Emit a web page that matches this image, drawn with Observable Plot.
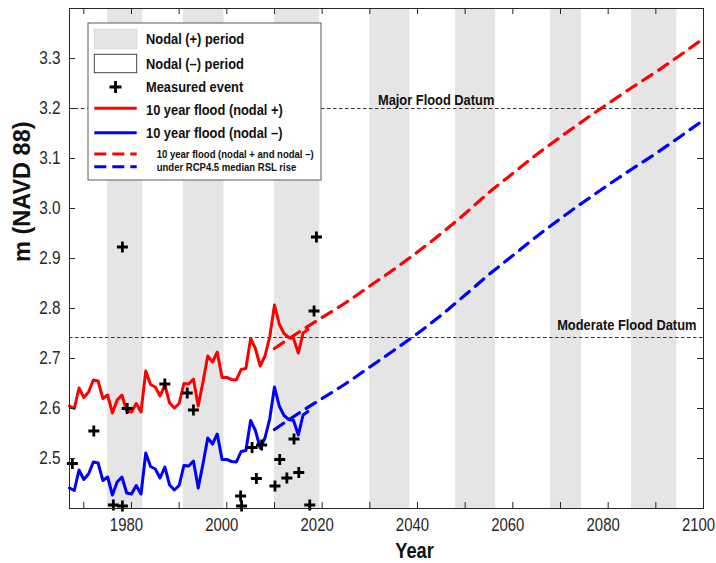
<!DOCTYPE html>
<html>
<head>
<meta charset="utf-8">
<script src="https://cdn.jsdelivr.net/npm/d3@7"></script>
<script src="https://cdn.jsdelivr.net/npm/@observablehq/plot@0.6"></script>
<style>
  body { margin: 0; background: #fff; }
  #chart { width: 716px; height: 563px; }
</style>
</head>
<body>
<div id="chart"></div>
<script>
// Annual 10-year flood level (m NAVD 88), nodal (+) and nodal (–) phases
const floodYears = [1967,1968,1969,1970,1971,1972,1973,1974,1975,1976,1977,1978,1979,1980,1981,1982,1983,1984,1985,1986,1987,1988,1989,1990,1991,1992,1993,1994,1995,1996,1997,1998,1999,2000,2001,2002,2003,2004,2005,2006,2007,2008,2009,2010,2011,2012,2013,2014,2015,2016,2017];
const floodNodalPlus = [2.605,2.600,2.641,2.622,2.633,2.657,2.655,2.620,2.627,2.591,2.617,2.627,2.595,2.593,2.610,2.593,2.675,2.648,2.643,2.625,2.647,2.611,2.601,2.610,2.650,2.649,2.659,2.605,2.653,2.705,2.693,2.713,2.662,2.662,2.658,2.657,2.678,2.680,2.740,2.720,2.685,2.705,2.743,2.807,2.769,2.750,2.742,2.740,2.711,2.751,2.758];
const floodNodalMinus = [2.441,2.436,2.477,2.458,2.469,2.493,2.491,2.456,2.463,2.427,2.453,2.463,2.431,2.429,2.446,2.429,2.511,2.484,2.479,2.461,2.483,2.447,2.437,2.446,2.486,2.485,2.495,2.441,2.489,2.541,2.529,2.549,2.498,2.498,2.494,2.493,2.514,2.516,2.576,2.556,2.521,2.541,2.579,2.643,2.605,2.586,2.578,2.576,2.547,2.587,2.594];

// Projected 10-year flood under RCP4.5 median relative sea-level rise
const projYears = [2010,2015,2020,2025,2030,2035,2040,2045,2050,2055,2060,2065,2070,2075,2080,2085,2090,2095,2100];
const projNodalPlus = [2.720,2.752,2.782,2.812,2.845,2.878,2.913,2.950,2.990,3.032,3.070,3.108,3.143,3.177,3.210,3.242,3.273,3.306,3.340];
const projNodalMinus = [2.558,2.590,2.620,2.650,2.683,2.716,2.750,2.787,2.827,2.868,2.906,2.944,2.980,3.014,3.047,3.079,3.110,3.143,3.177];

// Measured flood events
const eventYears = [1967.6,1972.1,1976.2,1978.1,1978.1,1979.1,1987.0,1991.7,1993.0,2002.9,2003.1,2005.3,2006.2,2007.3,2010.1,2011.1,2012.6,2014.1,2015.1,2017.4,2018.3,2018.8];
const eventLevels = [2.490,2.555,2.407,2.405,2.923,2.600,2.649,2.631,2.597,2.425,2.405,2.522,2.460,2.527,2.445,2.498,2.461,2.539,2.472,2.407,2.795,2.943];

// Nodal (+) periods
const nodalPlusStart = [1975.0,1990.9,2010.0,2030.0,2048.0,2067.9,2084.9];
const nodalPlusEnd   = [1982.4,1999.4,2019.5,2038.4,2056.4,2074.4,2094.4];

// Flood datums
const majorFloodDatum = 3.2;
const moderateFloodDatum = 2.742;

// Axis ticks
const xTicks = [1970,1980,1990,2000,2010,2020,2030,2040,2050,2060,2070,2080,2090,2100];
const xTickLabels = [1980,2000,2020,2040,2060,2080,2100];
const yTicks = [2.5,2.6,2.7,2.8,2.9,3.0,3.1,3.2,3.3];

const FONT = "'Liberation Sans',Arial,Helvetica,sans-serif";
const AXIS = "#262626";
const CONDENSE = 0.83; // horizontal text is set condensed

const observed = floodYears.map((year, i) => ({year, plus: floodNodalPlus[i], minus: floodNodalMinus[i]}));
const projected = projYears.map((year, i) => ({year, plus: projNodalPlus[i], minus: projNodalMinus[i]}));
const events = eventYears.map((year, i) => ({year, level: eventLevels[i]}));
const bands = nodalPlusStart.map((start, i) => ({start, end: nodalPlusEnd[i]}));

// "+" marker drawn as two strokes
const plusSymbol = {
  draw(context, size) {
    const r = Math.sqrt(size / Math.PI);
    context.moveTo(-r, 0); context.lineTo(r, 0);
    context.moveTo(0, -r); context.lineTo(0, r);
  }
};

const W = 716, H = 563, mL = 69, mR = 13, mT = 8, mB = 55;
const frameW = W - mL - mR, frameH = H - mT - mB, tick = 6;

const chart = Plot.plot({
  width: W, height: H,
  marginLeft: mL, marginRight: mR, marginTop: mT, marginBottom: mB,
  x: {domain: [1967, 2100]},
  y: {domain: [2.4, 3.4]},
  style: {fontFamily: FONT, background: "#fff", color: AXIS, overflow: "visible"},
  marks: [
    Plot.rect(bands, {x1: "start", x2: "end", fill: "#e5e5e5"}),
    Plot.ruleY([majorFloodDatum, moderateFloodDatum], {y: d => d, stroke: "#333", strokeWidth: 1, strokeDasharray: "3.5,2.5"}),
    Plot.line(observed, {x: "year", y: "plus", stroke: "#ff0000", strokeWidth: 3}),
    Plot.line(observed, {x: "year", y: "minus", stroke: "#0000ff", strokeWidth: 3}),
    Plot.line(projected, {x: "year", y: "plus", stroke: "#ff0000", strokeWidth: 3.2, strokeDasharray: "11,8", curve: "monotone-x"}),
    Plot.line(projected, {x: "year", y: "minus", stroke: "#0000ff", strokeWidth: 3.2, strokeDasharray: "11,8", curve: "monotone-x"}),
    Plot.dot(events, {x: "year", y: "level", symbol: plusSymbol, r: 5.5, stroke: "#000", strokeWidth: 2.8, fill: "none"}),
    Plot.text(["Major Flood Datum"], {x: 2031.7, y: majorFloodDatum, dy: -8.5, textAnchor: "start", lineAnchor: "middle", fontWeight: "bold", fontSize: 15.5, fill: "#111", className: "hz"}),
    Plot.text(["Moderate Flood Datum"], {x: 2069.3, y: moderateFloodDatum, dy: -12.5, textAnchor: "start", lineAnchor: "middle", fontWeight: "bold", fontSize: 15.5, fill: "#111", className: "hz"}),
    Plot.frame({stroke: AXIS, strokeWidth: 1}),
    // inward ticks on all four sides
    Plot.ruleX(xTicks, {x: d => d, insetTop: frameH - tick, stroke: AXIS}),
    Plot.ruleX(xTicks, {x: d => d, insetBottom: frameH - tick, stroke: AXIS}),
    Plot.ruleY(yTicks, {y: d => d, insetRight: frameW - tick, stroke: AXIS}),
    Plot.ruleY(yTicks, {y: d => d, insetLeft: frameW - tick, stroke: AXIS}),
    Plot.axisX(xTickLabels, {tickSize: 0, tickPadding: 10, dx: -5, fontSize: 18, tickFormat: d => String(d), label: null, fill: AXIS, className: "hz"}),
    Plot.axisY(yTicks, {tickSize: 0, tickPadding: 9, fontSize: 18.5, tickFormat: d3.format(".1f"), label: null, fill: AXIS, className: "hz"}),
    Plot.text(["Year"], {frameAnchor: "bottom", dx: 28, dy: 42.5, lineAnchor: "middle", fontWeight: "bold", fontSize: 22, fill: "#111", className: "hz"}),
    Plot.text(["m (NAVD 88)"], {frameAnchor: "left", rotate: -90, dx: -40, dy: 3.5, lineAnchor: "bottom", fontWeight: "bold", fontSize: 23.5, fill: "#111"})
  ]
});

// Legend box in the upper-left of the axes
const svg = d3.select(chart);
const lg = svg.append("g").attr("class", "hz").attr("font-family", FONT).attr("font-weight", "bold")
  .attr("fill", "#111").attr("text-anchor", "start");
lg.append("rect").attr("x", 88).attr("y", 23).attr("width", 233).attr("height", 157)
  .attr("fill", "#fff").attr("stroke", "#5a5a5a").attr("stroke-width", 1);
const kx1 = 94.3, kx2 = 136.7, tx = 146;
lg.append("rect").attr("x", kx1).attr("y", 29.3).attr("width", kx2 - kx1).attr("height", 19)
  .attr("fill", "#e5e5e5").attr("stroke", "#d6d6d6");
lg.append("rect").attr("x", kx1).attr("y", 54.3).attr("width", kx2 - kx1).attr("height", 18.4)
  .attr("fill", "#fff").attr("stroke", "#444");
const mx = (kx1 + kx2) / 2, my = 87;
lg.append("path").attr("d", `M${mx - 6},${my}H${mx + 6}M${mx},${my - 6}V${my + 6}`)
  .attr("stroke", "#000").attr("stroke-width", 2.8).attr("fill", "none");
[[108.3, "#ff0000", null], [132.7, "#0000ff", null], [154, "#ff0000", "12,6"], [166.7, "#0000ff", "12,6"]].forEach(([y, c, dash]) => {
  const l = lg.append("line").attr("x1", kx1).attr("x2", kx2).attr("y1", y).attr("y2", y)
    .attr("stroke", c).attr("stroke-width", 3);
  if (dash) l.attr("stroke-dasharray", dash);
});
[["Nodal (+) period", 38.3], ["Nodal (\u2013) period", 63.3], ["Measured event", 86.5],
 ["10 year flood (nodal +)", 109.5], ["10 year flood (nodal \u2013)", 133]].forEach(([t, y]) => {
  lg.append("text").attr("x", tx).attr("y", y + 5.5).attr("font-size", 15.5).text(t);
});
[["10 year flood (nodal + and nodal \u2013)", 154], ["under RCP4.5 median RSL rise", 167.3]].forEach(([t, y]) => {
  lg.append("text").attr("x", 156.7).attr("y", y + 4).attr("font-size", 11.5).text(t);
});

document.getElementById("chart").appendChild(chart);

// Condense horizontal text: scale each text along x about its own anchor point
svg.selectAll(".hz text").each(function () {
  const num = a => { const v = parseFloat(this.getAttribute(a)); return isFinite(v) ? v : 0; };
  const ax = num("x") + num("dx");
  const t = this.getAttribute("transform") || "";
  this.setAttribute("transform", `${t} translate(${ax},0) scale(${CONDENSE},1) translate(${-ax},0)`.trim());
});
</script>
</body>
</html>
